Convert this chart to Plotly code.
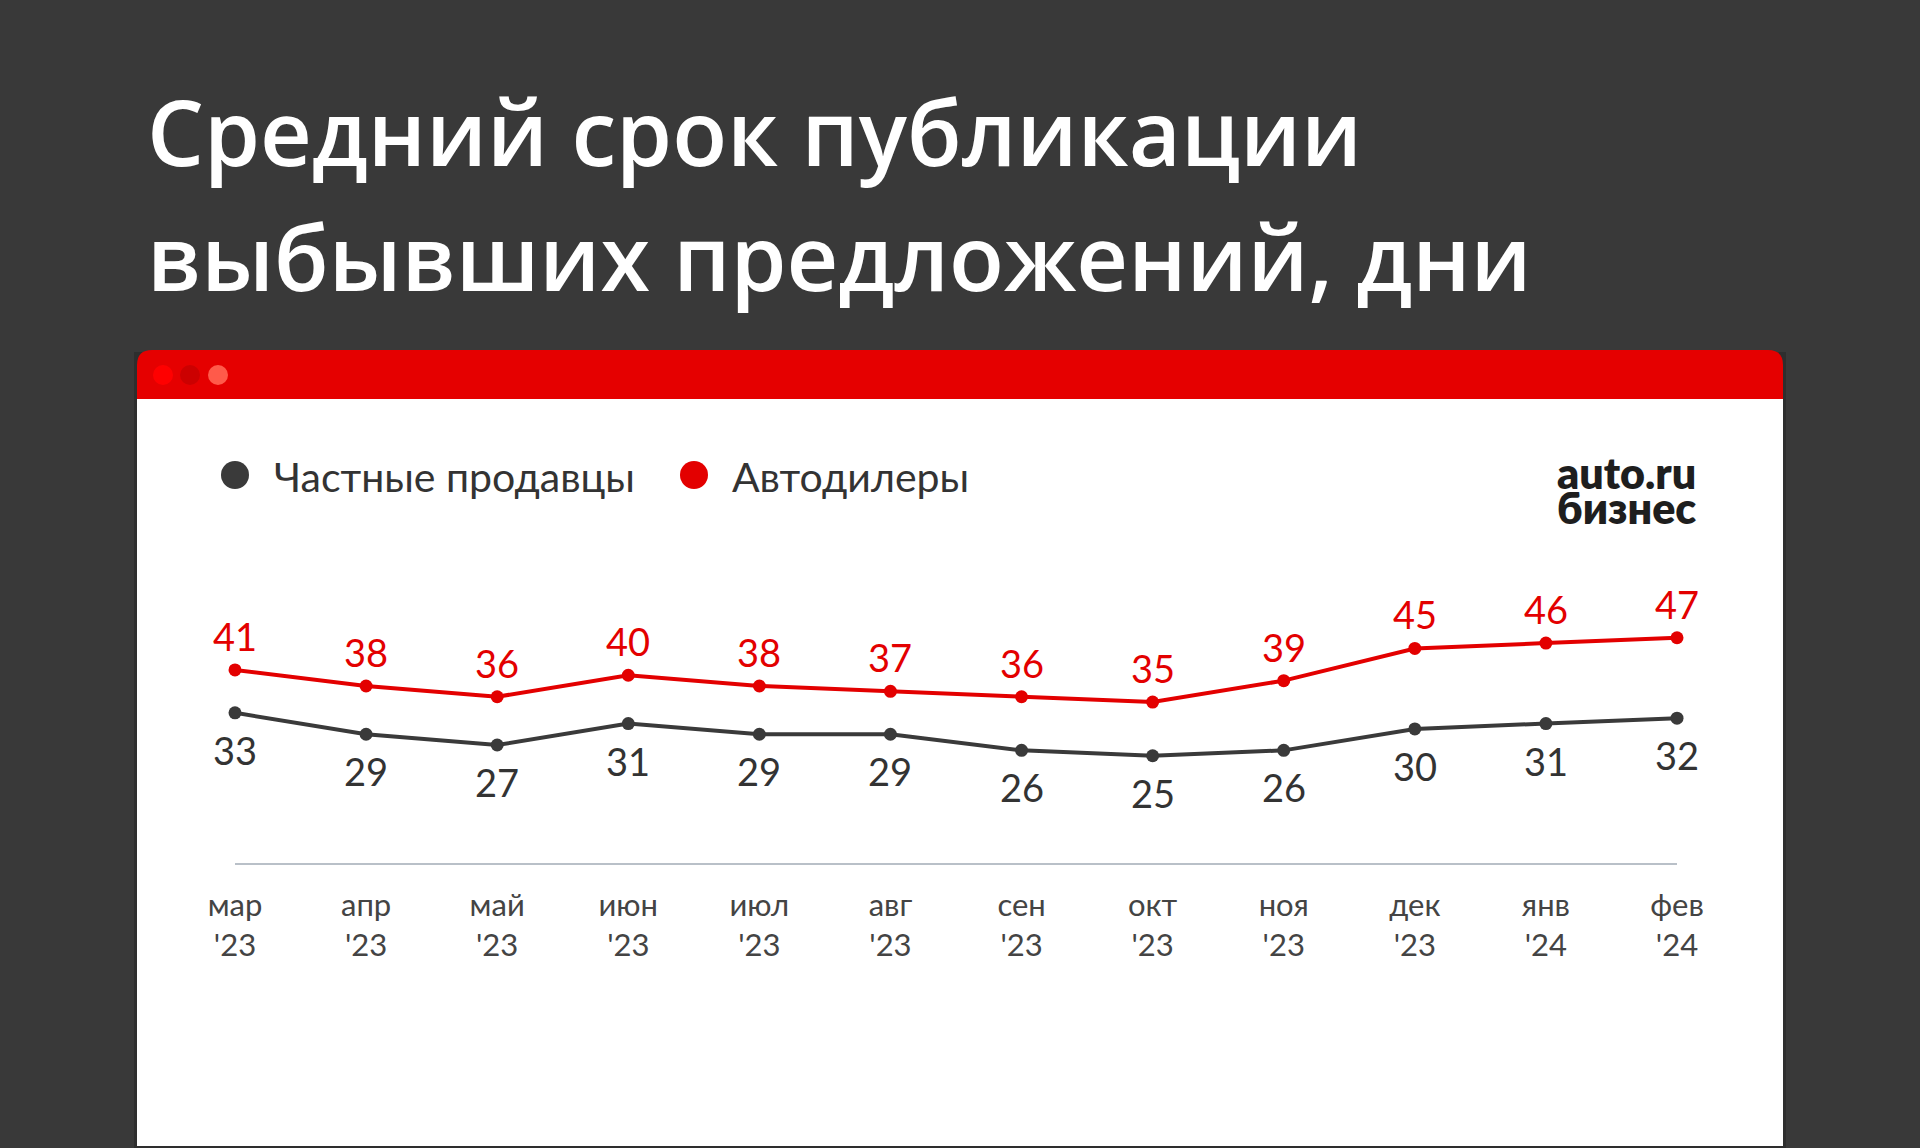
import plotly.graph_objects as go

# данные
months = ["мар", "апр", "май", "июн", "июл", "авг", "сен", "окт", "ноя", "дек", "янв", "фев"]
years = ["'23", "'23", "'23", "'23", "'23", "'23", "'23", "'23", "'23", "'23", "'24", "'24"]
private = [33, 29, 27, 31, 29, 29, 26, 25, 26, 30, 31, 32]
dealers = [41, 38, 36, 40, 38, 37, 36, 35, 39, 45, 46, 47]

title_lines = ["Средний срок публикации", "выбывших предложений, дни"]
series_names = ["Частные продавцы", "Автодилеры"]

RED = "#e30000"
DARK = "#3a3a3a"
BG = "#393939"
FONT = "Lato"

W, H = 1920, 1148
L, R, T, B = 235, 243, 568, 285


def fx(p):
    return (p - L) / (W - L - R)


def fy(p):
    return (H - B - p) / (H - T - B)


x = list(range(len(months)))
ticktext = [m + "<br>" + y for m, y in zip(months, years)]

fig = go.Figure()
fig.add_trace(go.Scatter(x=x, y=private, mode="lines+markers", name=series_names[0],
                         line=dict(color=DARK, width=4), marker=dict(color=DARK, size=13),
                         cliponaxis=False, hoverinfo="x+y"))
fig.add_trace(go.Scatter(x=x, y=dealers, mode="lines+markers", name=series_names[1],
                         line=dict(color=RED, width=4), marker=dict(color=RED, size=13),
                         cliponaxis=False, hoverinfo="x+y"))

shapes = []
# карточка
shapes.append(dict(type="rect", xref="paper", yref="paper", layer="below",
                   x0=fx(134), x1=fx(1786), y0=fy(1148), y1=fy(352),
                   fillcolor="rgba(0,0,0,0.18)", line_width=0))
shapes.append(dict(type="rect", xref="paper", yref="paper", layer="below",
                   x0=fx(137), x1=fx(1783), y0=fy(1146), y1=fy(385),
                   fillcolor="white", line_width=0))
x0, x1, y0, y1, r = 137, 1783, 350, 399, 15
path = (f"M {fx(x0)},{fy(y1)} L {fx(x0)},{fy(y0 + r)} Q {fx(x0)},{fy(y0)} {fx(x0 + r)},{fy(y0)} "
        f"L {fx(x1 - r)},{fy(y0)} Q {fx(x1)},{fy(y0)} {fx(x1)},{fy(y0 + r)} L {fx(x1)},{fy(y1)} Z")
shapes.append(dict(type="path", xref="paper", yref="paper", layer="below", path=path,
                   fillcolor="#e50000", line_width=0))
for cx, col in zip([163, 190, 218], ["#ff0000", "#cc0000", "#ff5a4a"]):
    shapes.append(dict(type="circle", xref="paper", yref="paper", layer="below",
                       x0=fx(cx - 10), x1=fx(cx + 10), y0=fy(385), y1=fy(365),
                       fillcolor=col, line_width=0))
# легенда
for cx, col in zip([235, 694], [DARK, RED]):
    shapes.append(dict(type="circle", xref="paper", yref="paper", layer="above",
                       x0=fx(cx - 14), x1=fx(cx + 14), y0=fy(489), y1=fy(461),
                       fillcolor=col, line_width=0))

ann = []
for i, line in enumerate(title_lines):
    ann.append(dict(text=line, xref="paper", yref="paper", x=fx(145), y=fy([131, 256][i]),
                    xanchor="left", yanchor="middle", showarrow=False,
                    font=dict(family="Open Sans", size=90, color="white", weight=600)))
for tx, name in zip([272, 730], series_names):
    ann.append(dict(text=name, xref="paper", yref="paper", x=fx(tx), y=fy(476),
                    xanchor="left", yanchor="middle", showarrow=False,
                    font=dict(family=FONT, size=41, color="#333333")))
for ty, word in zip([472, 507], ["auto.ru", "бизнес"]):
    ann.append(dict(text=word, xref="paper", yref="paper", x=fx(1555), y=fy(ty),
                    xanchor="left", yanchor="middle", showarrow=False,
                    font=dict(family=FONT, size=43, color="#1e1e1e", weight=800)))
# подписи значений
for xi, v in zip(x, dealers):
    ann.append(dict(text=str(v), x=xi, y=v, xref="x", yref="y", yshift=34,
                    yanchor="middle", showarrow=False,
                    font=dict(family=FONT, size=38, color=RED)))
for xi, v in zip(x, private):
    ann.append(dict(text=str(v), x=xi, y=v, xref="x", yref="y", yshift=-37,
                    yanchor="middle", showarrow=False,
                    font=dict(family=FONT, size=38, color="#333333")))

fig.update_layout(
    width=W, height=H,
    margin=dict(l=L, r=R, t=T, b=B, autoexpand=False),
    paper_bgcolor=BG, plot_bgcolor="rgba(0,0,0,0)",
    showlegend=False,
    shapes=shapes, annotations=ann,
    xaxis=dict(range=[0, 11], tickmode="array", tickvals=x, ticktext=ticktext,
               showgrid=False, zeroline=False, showline=True, linecolor="#b9c0c8", linewidth=1.5,
               ticks="", ticklabelstandoff=14, fixedrange=True,
               tickfont=dict(family=FONT, size=31, color="#444444")),
    yaxis=dict(range=[5, 60], visible=False, fixedrange=True),
    font=dict(family=FONT),
)

fig.write_html("out.html", config={"displayModeBar": False},
               post_script="document.body.style.margin='0';")
